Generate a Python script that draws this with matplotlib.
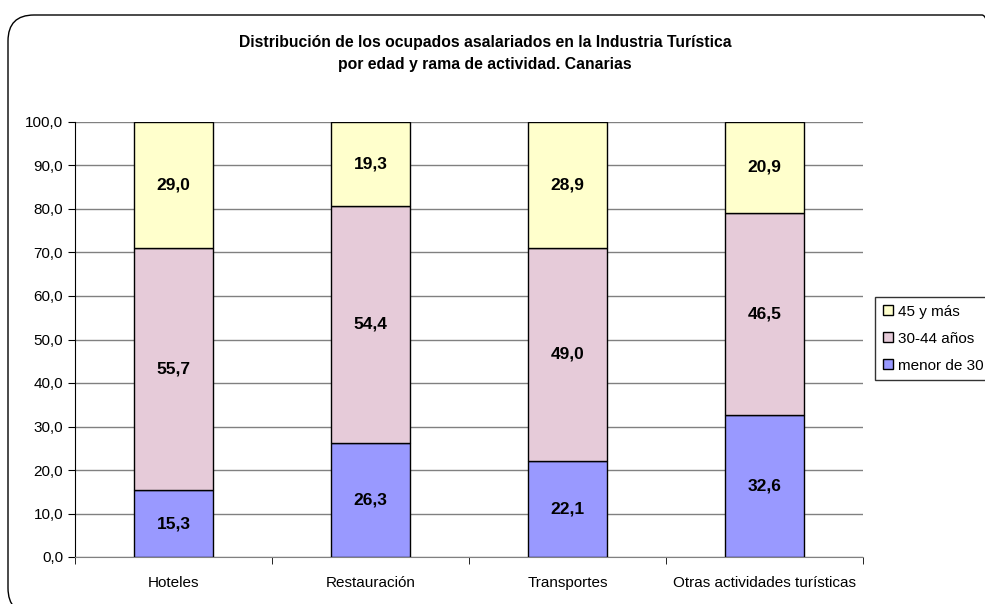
import numpy as np
import matplotlib.pyplot as plt
from matplotlib.patches import FancyBboxPatch
from matplotlib.transforms import IdentityTransform

plt.rcParams["font.family"] = ["Liberation Sans", "DejaVu Sans"]

categories = ["Hoteles", "Restauración", "Transportes", "Otras actividades turísticas"]
series_names = ["menor de 30", "30-44 años", "45 y más"]
menor_30 = [15.3, 26.3, 22.1, 32.6]
de_30_44 = [55.7, 54.4, 49.0, 46.5]
mas_45 = [29.0, 19.3, 28.9, 20.9]
colors = ["#9999FF", "#E6CBD9", "#FFFFCC"]

W, H = 985, 604
fig = plt.figure(figsize=(W / 100, H / 100), dpi=100)
ax = fig.add_axes([75 / W, 1 - 557 / H, 788 / W, 435 / H])

# rounded chart frame (pixel coords, runs past right/bottom edges)
frame = FancyBboxPatch((8, -10), 1000, 599,
                       boxstyle="round,pad=0,rounding_size=26",
                       transform=IdentityTransform(), fill=False,
                       edgecolor="black", linewidth=1.0, clip_on=False)
fig.patches.append(frame)

x = np.arange(len(categories))
bottom = np.zeros(len(categories))
handles = []
for vals, name, col in zip([menor_30, de_30_44, mas_45], series_names, colors):
    bars = ax.bar(x, vals, width=0.405, bottom=bottom, color=col,
                  edgecolor="black", linewidth=1.0, label=name, zorder=3)
    for xi, b, v in zip(x, bottom, vals):
        ax.text(xi, b + v / 2, f"{v:.1f}".replace(".", ","), ha="center",
                va="center", fontsize=12.5, fontweight="bold", zorder=4)
    handles.append(bars)
    bottom += np.array(vals)

ax.set_xlim(-0.5, len(categories) - 0.5)
ax.set_ylim(0, 100)
ax.set_yticks(np.arange(0, 101, 10))
ax.set_yticklabels([f"{v:.1f}".replace(".", ",") for v in np.arange(0, 101, 10)])
ax.set_xticks(x)
ax.set_xticklabels(categories)
ax.set_xticks(np.arange(-0.5, len(categories), 1), minor=True)
ax.tick_params(axis="x", which="major", length=0, pad=14, labelsize=11)
ax.tick_params(axis="x", which="minor", length=5, direction="out")
ax.tick_params(axis="y", length=5, direction="out", labelsize=11)
ax.grid(axis="y", color="#808080", linewidth=1.0, zorder=0)
for side in ["top", "right"]:
    ax.spines[side].set_visible(False)
ax.spines["left"].set_color("black")
ax.spines["bottom"].set_color("#808080")

fig.text(485 / W, 1 - 43 / H, "Distribución de los ocupados asalariados en la Industria Turística",
         ha="center", va="center", fontsize=11.3, fontweight="bold")
fig.text(485 / W, 1 - 64 / H, "por edad y rama de actividad. Canarias",
         ha="center", va="center", fontsize=11.3, fontweight="bold")

leg = fig.legend(handles[::-1], series_names[::-1], loc="upper left",
                 bbox_to_anchor=(875 / W, 1 - 297 / H), fontsize=11,
                 frameon=True, fancybox=False, edgecolor="black",
                 handlelength=0.65, handleheight=0.65, handletextpad=0.35,
                 borderpad=0.5, labelspacing=0.85, borderaxespad=0)
leg.get_frame().set_linewidth(1.0)

plt.savefig("out.png", dpi=100)
